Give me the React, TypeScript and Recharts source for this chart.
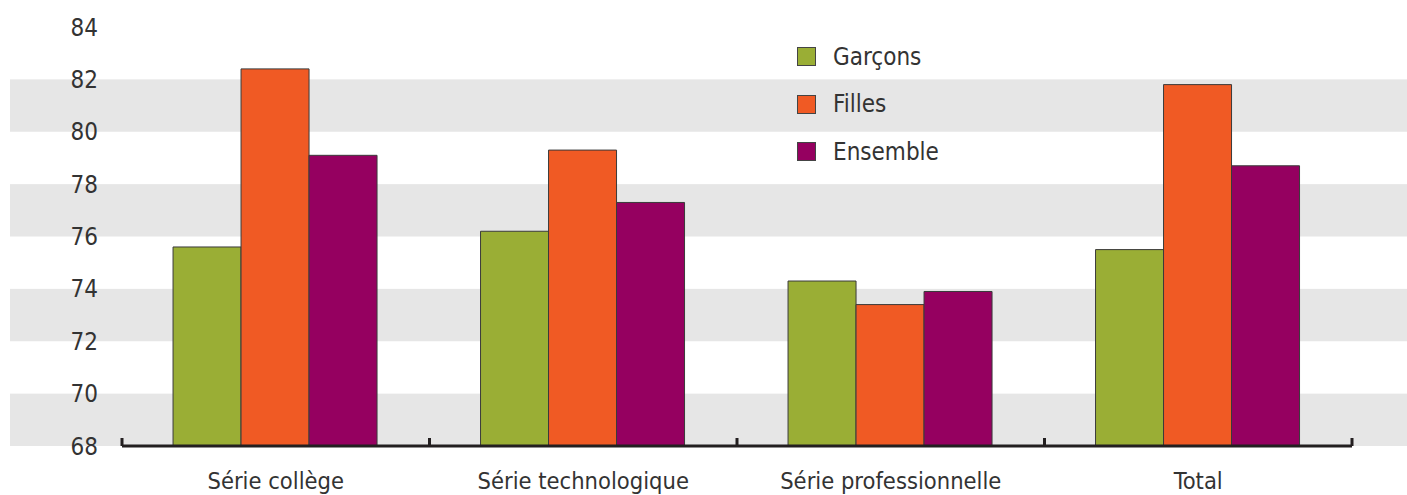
import { BarChart, Bar, XAxis, YAxis, ReferenceArea, Legend } from 'recharts'

const categories = ['Série collège', 'Série technologique', 'Série professionnelle', 'Total']
const seriesNames = ['Garçons', 'Filles', 'Ensemble']
const garcons = [75.6, 76.2, 74.3, 75.5]
const filles = [82.4, 79.3, 73.4, 81.8]
const ensemble = [79.1, 77.3, 73.9, 78.7]
const yTicks = [68, 70, 72, 74, 76, 78, 80, 82, 84]
const bands = [[68, 70], [72, 74], [76, 78], [80, 82]]

const data = categories.map((name, i) => ({ name, garcons: garcons[i], filles: filles[i], ensemble: ensemble[i] }))

const FONT = "'Liberation Sans Narrow', 'DejaVu Sans Condensed', 'Roboto', sans-serif"
const INK = '#333333'
const AXIS = '#231f20'

function CategoryTick(props: any) {
  const { x, y, payload, index } = props
  const half = payload?.offset ?? 153.75
  const last = index === categories.length - 1
  return (
    <g>
      <line x1={x - half} x2={x - half} y1={y} y2={y - 8} stroke={AXIS} strokeWidth={3} />
      {last && <line x1={x + half} x2={x + half} y1={y} y2={y - 8} stroke={AXIS} strokeWidth={3} />}
      <text x={x} y={y + 43} textAnchor="middle" fill={INK} fontSize={23.5} fontFamily={FONT}>
        {payload.value}
      </text>
    </g>
  )
}

function LegendBox({ payload }: any) {
  const items = [...(payload || [])].sort((a: any, b: any) => seriesNames.indexOf(a.value) - seriesNames.indexOf(b.value))
  return (
    <div style={{ fontFamily: FONT, fontSize: 24, color: INK }}>
      {items.map((p: any) => (
        <div key={p.value} style={{ display: 'flex', alignItems: 'center', height: 47.5 }}>
          <span style={{ width: 17, height: 17, background: p.color, border: '1px solid #444', marginRight: 17, display: 'inline-block' }} />
          <span>{p.value}</span>
        </div>
      ))}
    </div>
  )
}

export default function App() {
  return (
    <div style={{ position: 'absolute', left: 0, top: 0, width: 1407, height: 495, background: '#fff' }}>
      <BarChart
        width={1407}
        height={495}
        data={data}
        margin={{ top: 27, right: 55, left: 0, bottom: 0 }}
        barCategoryGap="16.6%"
        barGap={0}
      >
        {bands.map(([a, b]) => (
          <ReferenceArea
            key={a}
            y1={a}
            y2={b}
            ifOverflow="visible"
            shape={(p: any) => <rect x={10} y={p.y} width={1397} height={p.height} fill="#e6e6e6" />}
          />
        ))}
        <XAxis
          dataKey="name"
          height={49}
          axisLine={{ stroke: AXIS, strokeWidth: 3 }}
          tickLine={false}
          tickSize={0}
          tickMargin={0}
          interval={0}
          tick={<CategoryTick />}
        />
        <YAxis
          width={122}
          domain={[68, 84]}
          ticks={yTicks}
          allowDataOverflow
          axisLine={false}
          tickLine={false}
          tickSize={0}
          tickMargin={24}
          tick={{ fill: INK, fontSize: 24, fontFamily: FONT }}
        />
        <Legend
          layout="vertical"
          align="center"
          verticalAlign="middle"
          wrapperStyle={{ position: 'absolute', left: 797, top: 33, width: 200, height: 150 }}
          content={<LegendBox />}
        />
        <Bar dataKey="garcons" name={seriesNames[0]} fill="#9aae35" stroke="#3a3a3a" strokeWidth={1} isAnimationActive={false} />
        <Bar dataKey="filles" name={seriesNames[1]} fill="#f05a24" stroke="#3a3a3a" strokeWidth={1} isAnimationActive={false} />
        <Bar dataKey="ensemble" name={seriesNames[2]} fill="#950060" stroke="#3a3a3a" strokeWidth={1} isAnimationActive={false} />
      </BarChart>
    </div>
  )
}
